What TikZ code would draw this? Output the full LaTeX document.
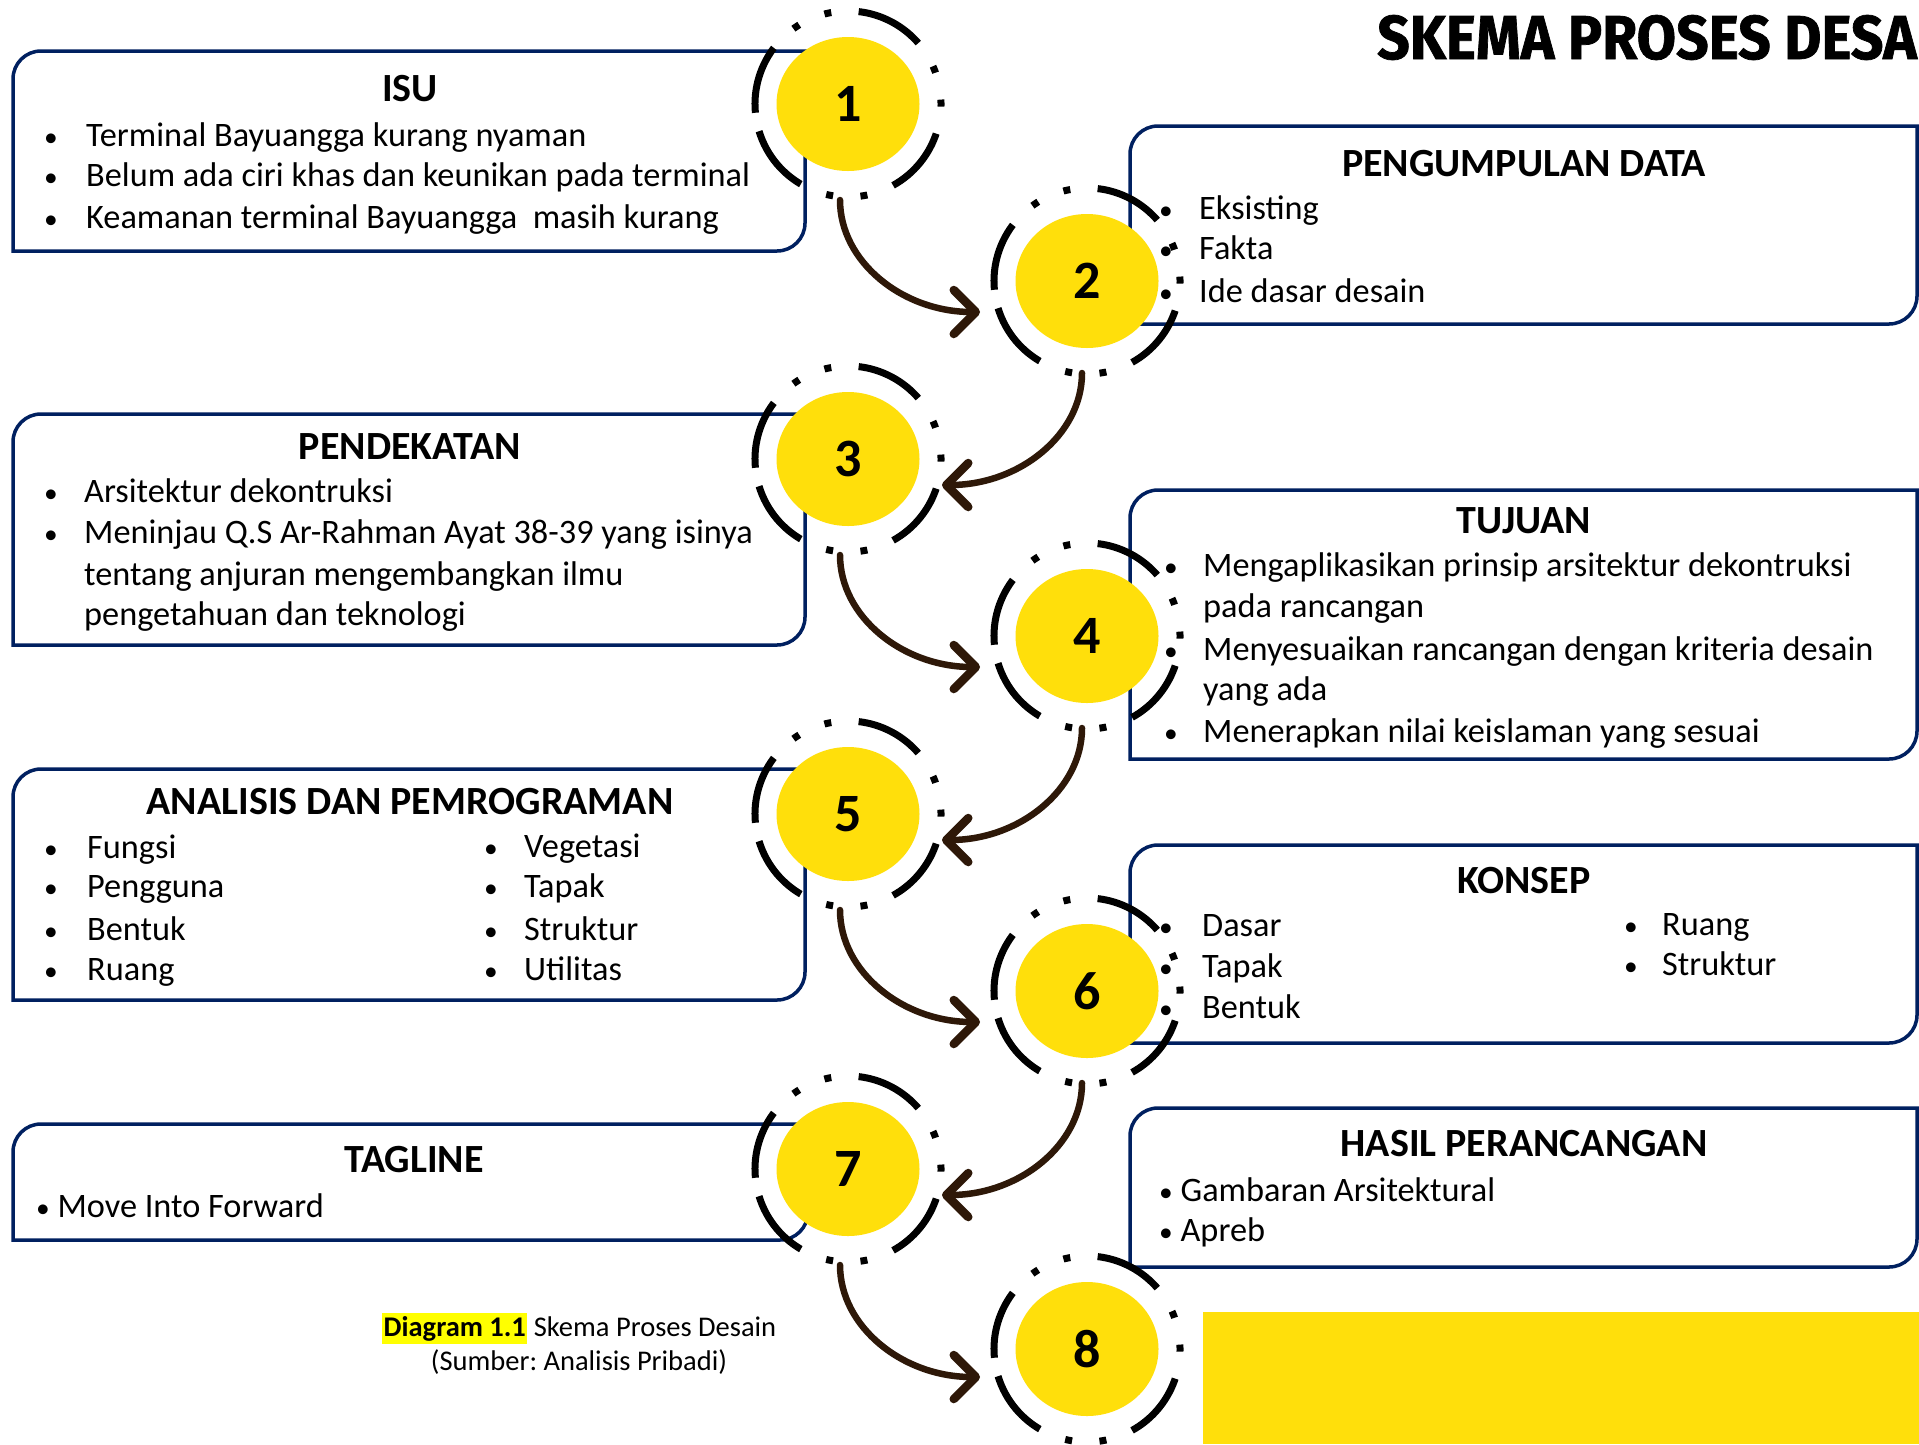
\documentclass[tikz,border=0pt]{standalone}
\usepackage{fontspec}
\setmainfont{Carlito}
\newfontfamily\ttlfam{Fira Sans}[BoldFeatures={FakeBold=1.2}]
\usetikzlibrary{shapes.geometric,arrows.meta}
\definecolor{navy}{RGB}{0,32,96}
\definecolor{sunyellow}{RGB}{255,223,11}
\definecolor{arrowbrown}{RGB}{46,24,8}
\definecolor{hiyellow}{RGB}{255,255,0}
\newcommand\txtfont{\fontsize{34.3}{41}\selectfont}
\newcommand\hdfont{\fontsize{40}{46}\selectfont\bfseries}
\newcommand\nmfont{\fontsize{54}{60}\selectfont\bfseries}
\newcommand\capfont{\fontsize{28.5}{33}\selectfont}
\newcommand\ttlfont{\ttlfam\fontsize{62}{70}\selectfont\bfseries}
\newcommand\stepframe[4]{\draw[boxline] (#1,#4) -- (#1,#2+28) arc[start angle=180, end angle=270, radius=28] -- (#3,#2) -- (#3,#4-28) arc[start angle=0, end angle=90, radius=28] -- cycle;}
\newcommand\bitem[5]{\node[bul] (#1b) at (#2,#4) {\scalebox{0.8}{•}};\node[itm] (#1t) at (#3,#4) {#5};}
\tikzset{
  boxline/.style={draw=navy, line width=3.5pt},
  disk/.style={ellipse, fill=sunyellow, minimum width=143pt, minimum height=134pt, inner sep=0pt, font=\nmfont},
  ringline/.style={line width=7pt, dash pattern=on 69pt off 27.5pt on 7pt off 27.5pt on 7pt off 27.5pt},
  flow/.style={draw=arrowbrown, line width=6.5pt, line cap=round, -{Straight Barb[length=22pt,width=44pt,line width=8.5pt,round]}},
  hd/.style={anchor=base, font=\hdfont, inner sep=0pt},
  itm/.style={anchor=base west, font=\txtfont, inner sep=0pt},
  bul/.style={anchor=base, font=\txtfont, inner sep=0pt},
  capt/.style={font=\capfont, inner sep=0pt}
}
\begin{document}
\frenchspacing
\begin{tikzpicture}[x=1pt,y=-1pt]
\useasboundingbox (0,0) rectangle (1919,1444);
\fill[white] (0,0) rectangle (1919,1444);
% title
\node[anchor=base east, inner sep=0pt] (title) at (1917,59) {\scalebox{0.92}[1]{\ttlfont SKEMA PROSES DESA}};
% yellow block
\fill[sunyellow] (1203,1312) rectangle (1919,1444);
% boxes
\stepframe{13}{51}{805}{251}
\stepframe{1130}{126}{1917}{324}
\stepframe{13}{414}{805}{645}
\stepframe{1130}{490}{1917}{759}
\stepframe{13}{769}{805}{1000}
\stepframe{1130}{845}{1917}{1043}
\stepframe{13}{1124}{808}{1240}
\stepframe{1130}{1108}{1917}{1267}
% disks
\node[disk] (n1) at (848,104) {1};
\node[disk] (n2) at (1087,281) {2};
\node[disk] (n3) at (848,459) {3};
\node[disk] (n4) at (1087,636) {4};
\node[disk] (n5) at (848,814) {5};
\node[disk] (n6) at (1087,991) {6};
\node[disk] (n7) at (848,1169) {7};
\node[disk] (n8) at (1087,1349) {8};
\foreach \k in {1,...,8}{
  \draw[ringline] (n\k.center) ++(163:93) arc[start angle=163, delta angle=-360, radius=93];
}
% ISU
\node[hd] (isuh) at (410,101) {ISU};
\bitem{isua}{51}{86}{146}{Terminal Bayuangga kurang nyaman}
\bitem{isub}{51}{86}{186}{Belum ada ciri khas dan keunikan pada terminal}
\bitem{isuc}{51}{86}{228}{Keamanan terminal Bayuangga\ \ masih kurang}
% PENGUMPULAN DATA
\node[hd] (pdh) at (1524,176) {PENGUMPULAN DATA};
\bitem{pda}{1166}{1199}{219}{Eksisting}
\bitem{pdb}{1166}{1199}{259}{Fakta}
\bitem{pdc}{1166}{1199}{302}{Ide dasar desain}
% PENDEKATAN
\node[hd] (peh) at (410,459) {PENDEKATAN};
\bitem{pea}{51}{84}{502}{Arsitektur dekontruksi}
\bitem{peb}{51}{84}{543}{Meninjau Q.S Ar-Rahman Ayat 38-39 yang isinya}
\node[itm] (pec) at (84,585) {tentang anjuran mengembangkan ilmu};
\node[itm] (ped) at (84,625) {pengetahuan dan teknologi};
% TUJUAN
\node[hd] (tjh) at (1524,533) {TUJUAN};
\bitem{tja}{1171}{1203}{576}{Mengaplikasikan prinsip arsitektur dekontruksi}
\node[itm] (tjb) at (1203,617) {pada rancangan};
\bitem{tjc}{1171}{1203}{660}{Menyesuaikan rancangan dengan kriteria desain}
\node[itm] (tjd) at (1203,700) {yang ada};
\bitem{tje}{1171}{1203}{742}{Menerapkan nilai keislaman yang sesuai}
% ANALISIS
\node[hd] (anh) at (410,814) {ANALISIS DAN PEMROGRAMAN};
\bitem{ana}{51}{87}{858}{Fungsi}
\bitem{anb}{51}{87}{897}{Pengguna}
\bitem{anc}{51}{87}{940}{Bentuk}
\bitem{and}{51}{87}{980}{Ruang}
\bitem{ane}{491}{524}{857}{Vegetasi}
\bitem{anf}{491}{524}{897}{Tapak}
\bitem{ang}{491}{524}{940}{Struktur}
\bitem{anh}{491}{524}{980}{Utilitas}
% KONSEP
\node[hd] (koh) at (1524,893) {KONSEP};
\bitem{koa}{1166}{1202}{936}{Dasar}
\bitem{kob}{1166}{1202}{977}{Tapak}
\bitem{koc}{1166}{1202}{1018}{Bentuk}
\bitem{kod}{1631}{1662}{935}{Ruang}
\bitem{koe}{1631}{1662}{975}{Struktur}
% TAGLINE
\node[hd] (tgh) at (414,1172) {TAGLINE};
\node[itm] (tga) at (36,1217) {\scalebox{0.8}{•} Move Into Forward};
% HASIL
\node[hd] (hsh) at (1524,1156) {HASIL PERANCANGAN};
\node[itm] (hsa) at (1159,1201) {\scalebox{0.8}{•} Gambaran Arsitektural};
\node[itm] (hsb) at (1159,1241) {\scalebox{0.8}{•} Apreb};
% caption
\node[capt, anchor=base west, fill=hiyellow, inner xsep=1.5pt, inner ysep=3pt] (cap1) at (382,1336) {\bfseries Diagram 1.1};
\node[capt, anchor=base west] (cap2) at ([xshift=6]cap1.base east) {Skema Proses Desain};
\node[capt, anchor=base] (cap3) at (579,1370) {(Sumber: Analisis Pribadi)};
% arrows
\coordinate (s1) at ([shift={(-8,96)}]n1.center);
\coordinate (e1) at ([shift={(-107,31)}]n2.center);
\coordinate (s2) at ([shift={(-5,92)}]n2.center);
\coordinate (e2) at ([shift={(94,26)}]n3.center);
\coordinate (s3) at ([shift={(-8,96)}]n3.center);
\coordinate (e3) at ([shift={(-107,31)}]n4.center);
\coordinate (s4) at ([shift={(-5,92)}]n4.center);
\coordinate (e4) at ([shift={(94,26)}]n5.center);
\coordinate (s5) at ([shift={(-8,96)}]n5.center);
\coordinate (e5) at ([shift={(-107,31)}]n6.center);
\coordinate (s6) at ([shift={(-5,92)}]n6.center);
\coordinate (e6) at ([shift={(94,26)}]n7.center);
\coordinate (s7) at ([shift={(-8,96)}]n7.center);
\coordinate (e7) at ([shift={(-107,28)}]n8.center);
\draw[flow] (s1) .. controls +(0,62) and +(-77,0) .. (e1);
\draw[flow] (s2) .. controls +(0,62) and +(77,0) .. (e2);
\draw[flow] (s3) .. controls +(0,62) and +(-77,0) .. (e3);
\draw[flow] (s4) .. controls +(0,62) and +(77,0) .. (e4);
\draw[flow] (s5) .. controls +(0,62) and +(-77,0) .. (e5);
\draw[flow] (s6) .. controls +(0,62) and +(77,0) .. (e6);
\draw[flow] (s7) .. controls +(0,62) and +(-77,0) .. (e7);
\end{tikzpicture}
\end{document}
